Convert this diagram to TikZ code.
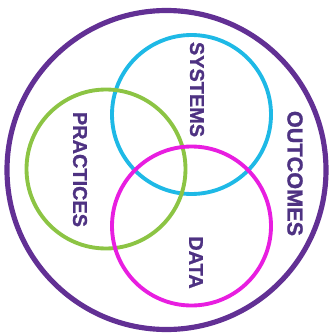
\documentclass[tikz,border=0pt]{standalone}
\usepackage{fontspec}
\setmainfont{Liberation Sans}
\newfontfamily\labfont[FakeBold=1.2]{Liberation Sans Bold}
\usepackage{tikz}

\definecolor{outpurple}{RGB}{98,48,148}
\definecolor{txtpurple}{RGB}{78,50,130}
\definecolor{syscyan}{RGB}{30,185,230}
\definecolor{pracgreen}{RGB}{140,196,68}
\definecolor{datamag}{RGB}{232,30,224}

\begin{document}
\begin{tikzpicture}[x=0.03cm, y=-0.03cm, ring/.style={line width=3.3pt}, lab/.style={font=\labfont\fontsize{17}{17}\selectfont, text=txtpurple, rotate=-90, inner sep=0pt}]
	\useasboundingbox (0,0) rectangle (334,336);
	\draw[outpurple, line width=4.4pt] (166.5,170) circle (159.5);
	\draw[ring, syscyan] (191.5,114.5) circle (79.5);
	\draw[ring, pracgreen] (106,169) circle (79.5);
	\draw[ring, datamag] (191.5,226) circle (79.5);
	\node[lab] (sys) at (197,89.5) {SYSTEMS};
	\node[lab] (prac) at (80,169.5) {PRACTICES};
	\node[lab] (dat) at (196,262.5) {DATA};
	\node[lab, font=\labfont\fontsize{18.5}{18.5}\selectfont] (out) at (295,173.5) {OUTCOMES};
\end{tikzpicture}
\end{document}
